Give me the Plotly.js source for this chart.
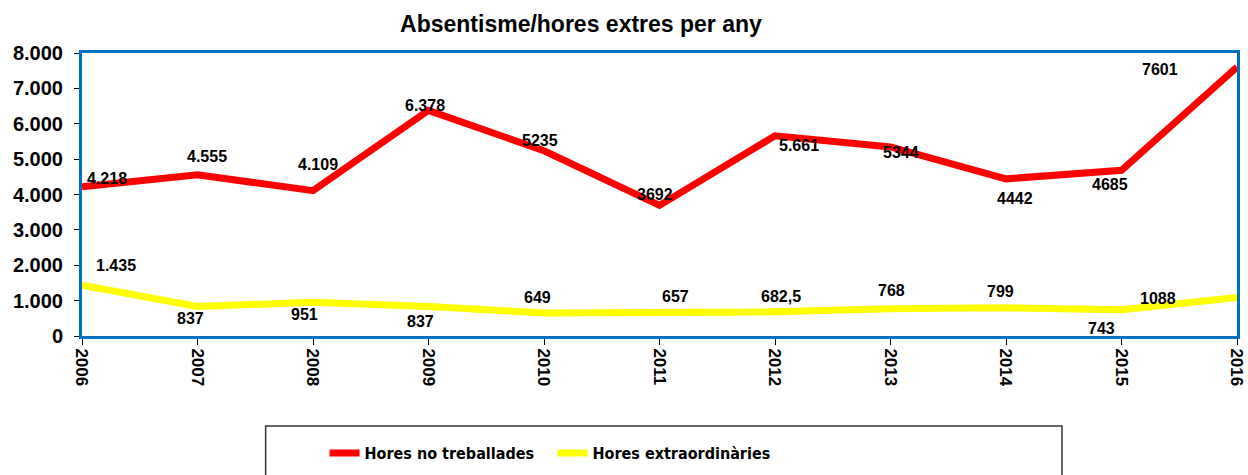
<!DOCTYPE html>
<html>
<head>
<meta charset="utf-8">
<script src="https://cdn.plot.ly/plotly-3.0.1.min.js"></script>
<style>
	body { margin: 0; background: #fff; }
	#chart { width: 1248px; height: 475px; }
</style>
</head>
<body>
<div id="chart"></div>
<script>
const years = [2006, 2007, 2008, 2009, 2010, 2011, 2012, 2013, 2014, 2015, 2016];
const horesNoTreballades = [4218, 4555, 4109, 6378, 5235, 3692, 5661, 5344, 4442, 4685, 7601];
const horesExtra = [1435, 837, 951, 837, 649, 657, 682.5, 768, 799, 743, 1088];
const labelsNoTreballades = ["4.218", "4.555", "4.109", "6.378", "5235", "3692", "5.661", "5344", "4442", "4685", "7601"];
const labelsExtra = ["1.435", "837", "951", "837", "649", "657", "682,5", "768", "799", "743", "1088"];

// where each value label sits relative to its point, in px [xshift, yshift]
const redShift = [[25, 8], [9, 18], [5, 26], [-4, 5], [-4, 10], [-5, 11], [24, -10], [10, -6], [9, -20], [-12, -14], [-77, -2]];
const yellowShift = [[34, 20], [-7, -12], [-9, -12], [-8, -15], [-7, 16], [16, 16], [6, 15], [1, 18], [-6, 16], [-20, -19], [-79, -1]];

const FONT = "Liberation Sans, Arial, sans-serif";
const BLUE = "#0070C0";

function makeLabels(values, labels, shifts) {
	let out = [];
	for (let i = 0; i < years.length; i++) {
		out.push({
			x: years[i],
			y: values[i],
			text: labels[i],
			showarrow: false,
			xshift: shifts[i][0],
			yshift: shifts[i][1],
			font: { family: FONT, size: 16, color: "#000", weight: "bold" },
		});
	}
	return out;
}

let traces = [
	{
		x: years,
		y: horesNoTreballades,
		type: "scatter",
		mode: "lines",
		name: "Hores no treballades",
		line: { color: "#FF0000", width: 7 },
		cliponaxis: false,
	},
	{
		x: years,
		y: horesExtra,
		type: "scatter",
		mode: "lines",
		name: "Hores extraordinàries",
		line: { color: "#FFFF00", width: 7 },
		cliponaxis: false,
	},
];

let layout = {
	width: 1248,
	height: 475,
	margin: { l: 82, r: 11, t: 53, b: 139 },
	paper_bgcolor: "#fff",
	plot_bgcolor: "#fff",
	separators: ",.",
	font: { family: FONT, color: "#000" },
	title: {
		text: "<b>Absentisme/hores extres per any</b>",
		font: { family: FONT, size: 23, color: "#000" },
		x: 0.4655,
		xanchor: "center",
		y: 0.949,
		yanchor: "middle",
	},
	xaxis: {
		range: [2006, 2016],
		tickvals: years,
		ticktext: years.map(String),
		tickangle: 90,
		tickfont: { family: FONT, size: 17, color: "#000", weight: "bold" },
		ticks: "outside",
		ticklen: 6,
		tickcolor: "#000",
		showgrid: false,
		zeroline: false,
		showline: true,
		linecolor: BLUE,
		linewidth: 3,
		mirror: true,
		automargin: false,
	},
	yaxis: {
		range: [0, 8000],
		dtick: 1000,
		tickformat: ",d",
		separatethousands: true,
		tickfont: { family: FONT, size: 20, color: "#000", weight: "bold" },
		ticks: "outside",
		ticklen: 5,
		tickcolor: "#000",
		ticklabelstandoff: 7,
		showgrid: false,
		zeroline: false,
		showline: true,
		linecolor: BLUE,
		linewidth: 3,
		mirror: true,
		automargin: false,
	},
	showlegend: true,
	legend: {
		orientation: "h",
		x: 0.21,
		xanchor: "left",
		yref: "container",
		y: 0.046,
		yanchor: "middle",
		entrywidth: 183,
		entrywidthmode: "pixels",
		font: { family: "DejaVu Sans Condensed, Liberation Sans Narrow, sans-serif", size: 16, color: "#000", weight: "bold" },
		bgcolor: "rgba(0,0,0,0)",
	},
	shapes: [
		{
			type: "rect",
			xref: "paper",
			yref: "paper",
			x0: 0.159,
			x1: 0.8485,
			y0: -0.318,
			y1: -0.56,
			line: { color: "#333", width: 1.5 },
			fillcolor: "rgba(0,0,0,0)",
			layer: "below",
		},
	],
	annotations: makeLabels(horesNoTreballades, labelsNoTreballades, redShift)
		.concat(makeLabels(horesExtra, labelsExtra, yellowShift)),
};

Plotly.newPlot("chart", traces, layout, { displayModeBar: false, staticPlot: true });
</script>
</body>
</html>
